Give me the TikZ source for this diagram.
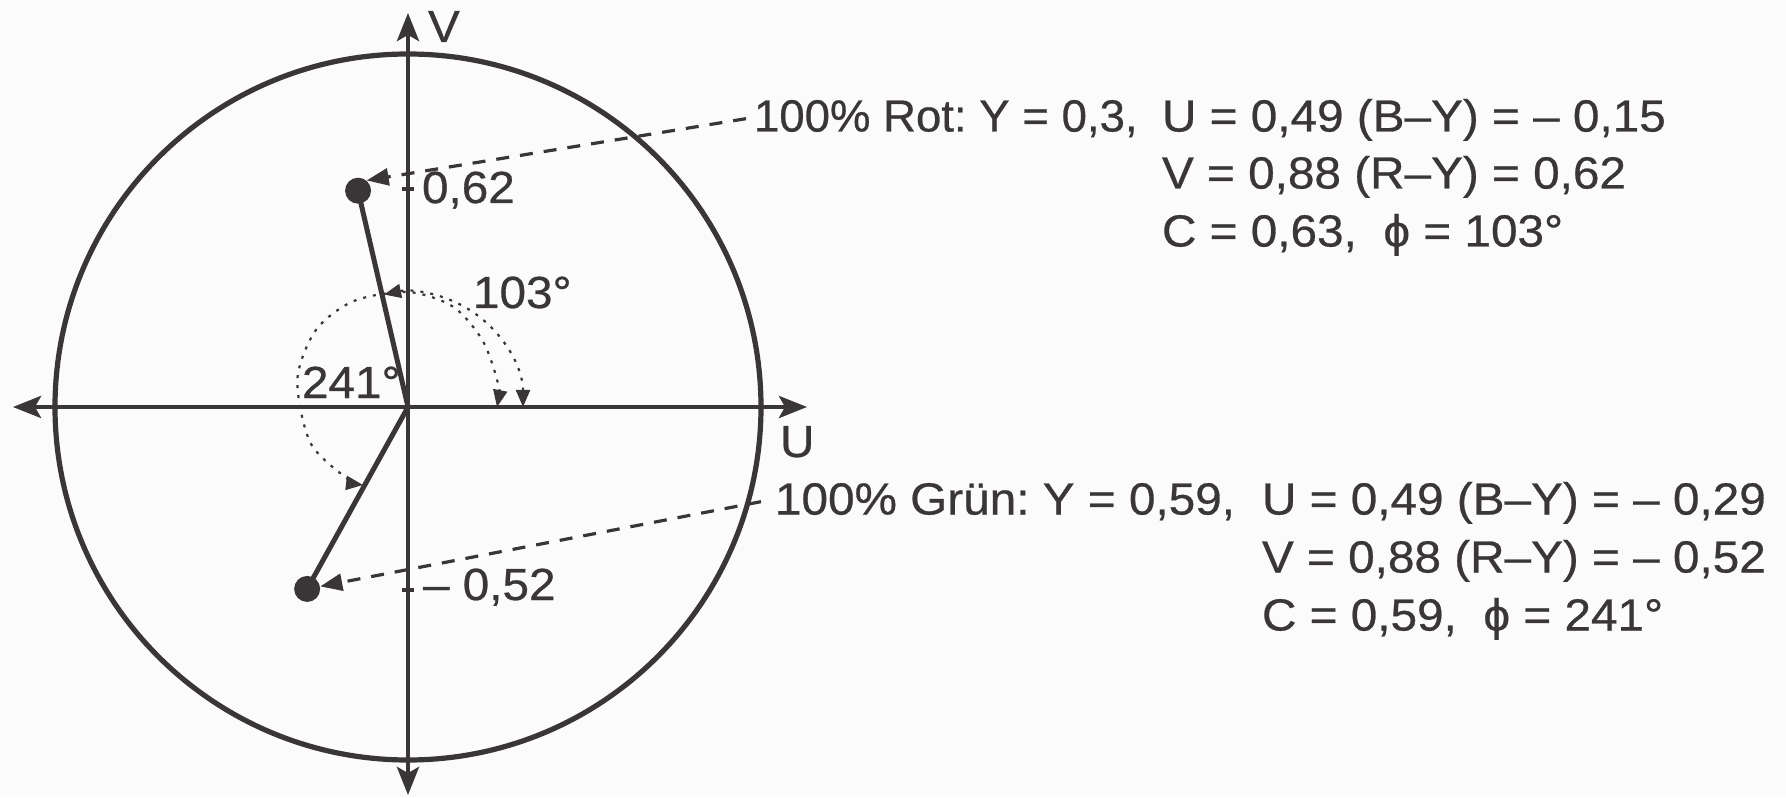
\documentclass[tikz,border=0pt]{standalone}
\usepackage{fontspec}
\setmainfont{Liberation Sans}[FakeStretch=1.06,FakeBold=0.6]
\usetikzlibrary{arrows.meta}
\definecolor{inkc}{HTML}{3A3637}
\definecolor{paper}{HTML}{FBFBFB}
\begin{document}
\frenchspacing
\begin{tikzpicture}[x=0.5pt,y=0.5pt,
  txt/.style={inner sep=0pt, outer sep=0pt, text=inkc, font=\fontsize{22.5}{29}\selectfont, anchor=base west},
  axisline/.style={draw=inkc, line width=2.2pt, {Stealth[length=14pt,width=11pt,inset=3pt]}-{Stealth[length=14pt,width=11pt,inset=3pt]}},
  rim/.style={draw=inkc, line width=2.6pt},
  vec/.style={draw=inkc, line width=2.5pt},
  dotnode/.style={circle, fill=inkc, inner sep=0pt, minimum size=13pt},
  leader/.style={draw=inkc, line width=1.6pt, dash pattern=on 6.5pt off 5.5pt, -{Triangle[length=11pt,width=8.5pt]}},
  anglearc/.style={draw=inkc, line width=1.1pt, dash pattern=on 1.5pt off 3.5pt, {Triangle[length=8.5pt,width=7pt]}-{Triangle[length=8.5pt,width=7pt]}},
  tickmark/.style={draw=inkc, line width=1.6pt}
]
\fill[paper] (-408,-390) rectangle (1378,407);
\useasboundingbox (-408,-390) rectangle (1378,407);

\coordinate (O) at (0,0);
\coordinate (vtop) at (0,394);
\coordinate (vbot) at (0,-388);
\coordinate (uleft) at (-395,0);
\coordinate (uright) at (399,0);

% circle
\draw[rim] (O) circle (353);

% axes
\draw[axisline] (vbot) -- (vtop);
\draw[axisline] (uleft) -- (uright);

% ticks
\draw[tickmark] (-6,218) -- (6,218);
\draw[tickmark] (-6,-183) -- (6,-183);

% angle arcs
\draw[anglearc] (0:115) arc[start angle=0, end angle=102, radius=115];
\draw[anglearc] plot[smooth] coordinates {(0:89) (15:93) (42:100) (66:110) (90:115) (117:119) (140:120) (166:114) (200:104) (229:94) (240:90)};

% colour points and vectors
\node[dotnode] (red) at (103:222) {};
\node[dotnode] (green) at (241:208) {};
\draw[vec] (O) -- (red.center);
\draw[vec] (O) -- (green.center);

% axis labels and values
\node[txt] (vlab) at (20,365) {V};
\node[txt] (ulab) at (372,-50) {U};
\node[txt] (v062) at (14,204) {0,62};
\node[txt] (v052) at (15,-193) {– 0,52};
\node[txt] (a103) at (65,99) {103°};
\node[txt] (a241) at (-106,9) {241°};

% red text
\node[txt] (rot1) at (346,275.5) {\scalebox{0.955}[1]{100\% Rot: Y = 0,3,}};
\node[txt] (rot2) at (754,275.5) {U = 0,49 (B–Y) = – 0,15};
\node[txt] (rot3) at (754,218.5) {V = 0,88 (R–Y) = 0,62};
\node[txt] (rot4) at (754,160.5) {C = 0,63,\ \ ϕ = 103°};

% green text
\node[txt] (gr1) at (367,-107.5) {100\% Grün: Y = 0,59,};
\node[txt] (gr2) at (854,-107.5) {U = 0,49 (B–Y) = – 0,29};
\node[txt] (gr3) at (854,-165.5) {V = 0,88 (R–Y) = – 0,52};
\node[txt] (gr4) at (854,-223.5) {C = 0,59,\ \ ϕ = 241°};

% leaders
\draw[leader] ([xshift=-4pt]rot1.west) -- (red.50);
\draw[leader] ([xshift=-7pt]gr1.west) -- (green);
\end{tikzpicture}
\end{document}
